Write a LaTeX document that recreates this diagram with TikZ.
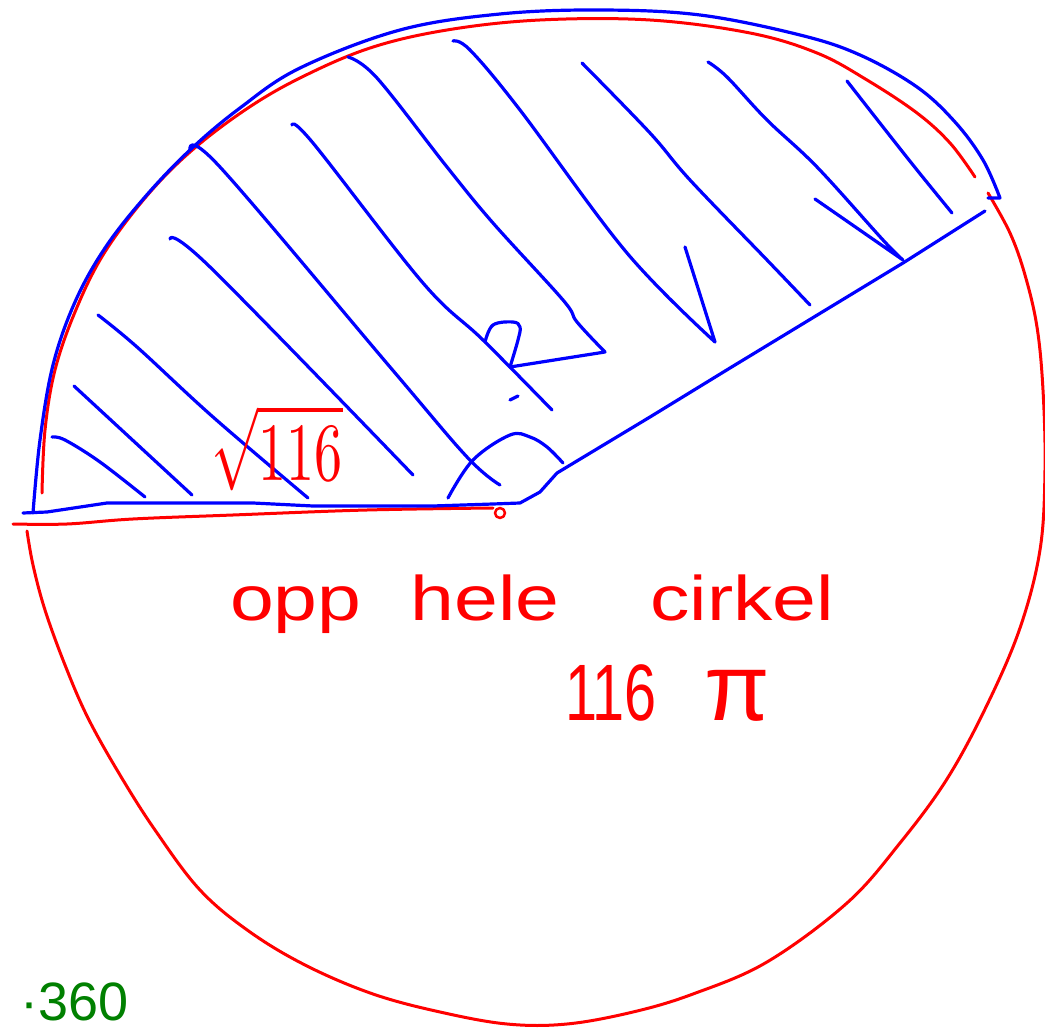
\documentclass[tikz,border=0pt]{standalone}
\usepackage{fontspec}
\usepackage{graphicx}
\newfontfamily\hand{Liberation Sans}
\definecolor{pen blue}{RGB}{0,0,255}
\definecolor{pen red}{RGB}{255,0,0}
\definecolor{pen green}{RGB}{0,128,0}
\begin{document}
\begin{tikzpicture}[x=1pt,y=-1pt,
  bluepen/.style={draw=pen blue,line width=3.2pt,line cap=round,line join=round},
  redpen/.style={draw=pen red,line width=3pt,line cap=round,line join=round},
  curvy/.style={smooth,tension=0.6},
  redtext/.style={text=pen red,inner sep=0pt},
  greentext/.style={text=pen green,inner sep=0pt}]
\useasboundingbox[fill=white] (0,0) rectangle (1045,1032);

% ---------- red circle ----------
\draw[redpen] plot[curvy] coordinates {(42,493) (45,430) (55,370) (75,312) (103,255) (145,198) (190,152) (245,110) (300,78) (370,48) (447,30) (540,20) (650,20) (750,33) (817,53) (867,80) (917,113) (950,143) (975,177)};
\draw[redpen] plot[curvy] coordinates {(988,193) (1010,233) (1025,275) (1037,327) (1043,390) (1045,470) (1040,550) (1020,628) (987,705) (947,779) (900,843) (847,903) (767,962) (693,994) (633,1012) (567,1024) (507,1024) (440,1012) (373,994) (307,966) (250,932) (200,890) (155,830) (120,775) (88,718) (65,665) (45,610) (33,565) (27,531)};
% red radius
\draw[redpen] plot[curvy] coordinates {(13,524) (67,524) (133,519) (233,515) (367,510) (493,508)};
\coordinate (centre) at (500,513);
\draw[redpen,line width=2.5pt] (centre) circle[radius=5];

% ---------- blue sector ----------
\draw[bluepen] plot[curvy] coordinates {(33,513) (40,440) (53,365) (75,302) (105,248) (145,197) (190,150) (240,108) (300,68) (400,30) (500,14) (600,10) (700,15) (800,35) (860,55) (917,87) (955,122) (983,160) (1000,198)} -- (988,198);
\draw[bluepen] (23,513) -- (47,512) -- (107,503) -- (253,503) -- (313,506) -- (433,506) -- (493,504) -- (520,503) -- (540,492) -- (557,473) -- (650,417) -- (730,368) -- (903,263) -- (985,211);

% angle arc
\draw[bluepen] plot[curvy] coordinates {(448,498) (473,460) (510,435) (530,437) (547,447) (563,463)};

% ---------- hatching ----------
\draw[bluepen] plot[curvy] coordinates {(52,437) (65,440) (100,462) (145,497)};
\draw[bluepen] (74,386) -- (192,495);
\draw[bluepen] plot[curvy] coordinates {(98,315) (137,347) (213,417) (308,498)};
\draw[bluepen] plot[curvy] coordinates {(170,239) (210,267) (413,475)};
\draw[bluepen] plot[curvy] coordinates {(190,150) (220,167) (390,367) (467,457) (500,485)};
\draw[bluepen] plot[curvy] coordinates {(292,125) (313,143) (423,283) (483,340) (552,410)};
\draw[bluepen] plot[curvy] coordinates {(348,57) (377,78) (447,167) (493,223) (563,300) (577,322) (605,352)} -- (510,367);
\draw[bluepen] plot[curvy] coordinates {(485,342) (493,325) (513,322) (520,327) (518,340) (510,367)};
\draw[bluepen] (510,400) -- (518,396);
\draw[bluepen] plot[curvy] coordinates {(453,41) (470,50) (520,110) (627,253) (715,342)} -- (685,247);
\draw[bluepen] plot[curvy] coordinates {(582,63) (650,133) (690,180) (767,260) (810,305)};
\draw[bluepen] plot[curvy] coordinates {(708,62) (727,77) (767,120) (817,167) (883,240) (903,260)} -- (815,199);
\draw[bluepen] plot[curvy] coordinates {(847,81) (883,127) (917,170) (952,213)};

% ---------- texts ----------
\node[redtext,anchor=center] (root) at (277,448) {\resizebox{131pt}{75pt}{$\sqrt{116}$}};
\node[redtext,anchor=base west,font=\hand\fontsize{63}{63}\selectfont] (whole) at (230,620) {\scalebox{1.25}[1]{opp \hspace{22pt}hele \hspace{55pt}cirkel}};
\node[redtext,anchor=base west,font=\hand\fontsize{80}{80}\selectfont] (area) at (565,720) {\scalebox{0.72}[1]{116} \hspace{25pt}{\fontsize{95}{95}\selectfont π}};
\node[greentext,anchor=base west,font=\hand\fontsize{54}{54}\selectfont] (times) at (20,1020) {·360};
\end{tikzpicture}
\end{document}
